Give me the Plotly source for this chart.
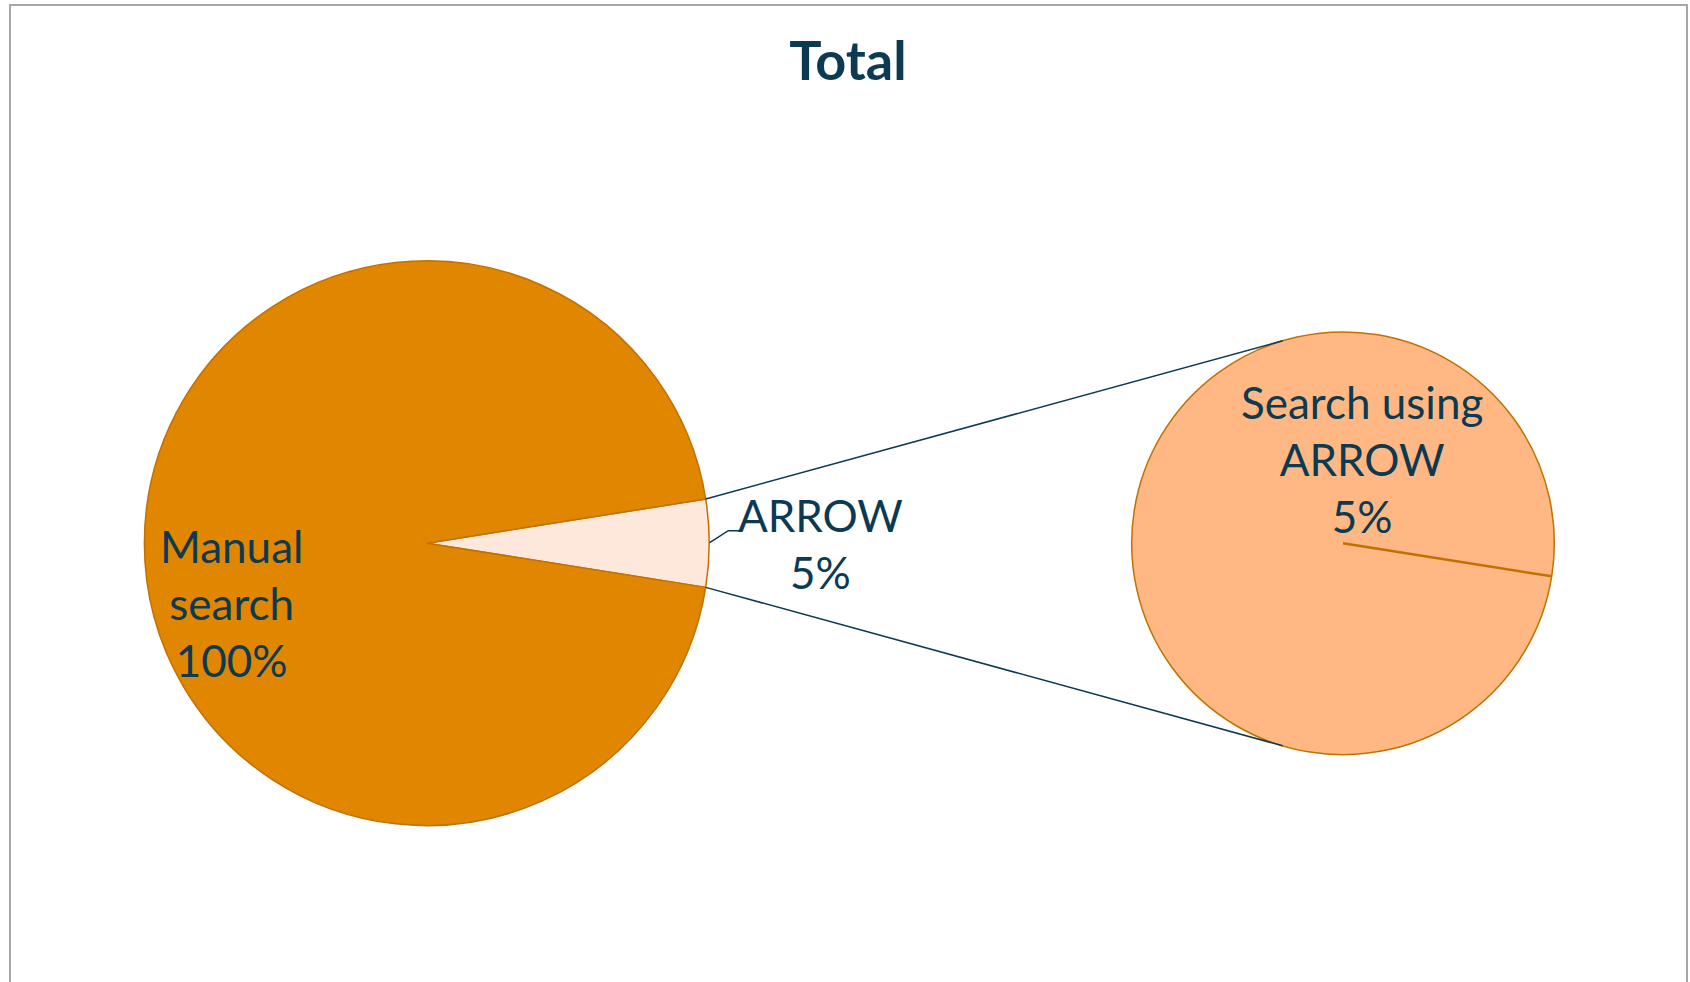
import math
import plotly.graph_objects as go

# ---- data ----
main_labels = ["ARROW", "Manual search"]
main_values = [5, 95]
main_text = ["ARROW<br>5%", "Manual<br>search<br>100%"]
sub_labels = ["Search using ARROW"]
sub_values = [5]
sub_text = ["Search using<br>ARROW<br>5%"]
title_text = "Total"

W, H = 1690, 982
NAVY = "#0C3A52"
ORANGE = "#E08600"
PEACH = "#FDE8DB"
LIGHT = "#FFB884"
EDGE = "#C27000"
FONT = "Lato"

# pie geometry (pixels)
c1x, c1y, r1 = 426.8, 543.2, 282.4
c2x, c2y, r2 = 1343.0, 543.3, 211.3


def px(x):
    return x / W


def py(y):
    return 1 - y / H


share = main_values[0] / sum(main_values)
half = share * 360 / 2  # ARROW slice is centred on 3 o'clock

fig = go.Figure()
fig.add_trace(go.Pie(
    labels=main_labels, values=main_values, sort=False, direction="clockwise",
    rotation=90 - half, textinfo="none", hoverinfo="label+percent",
    marker=dict(colors=[PEACH, ORANGE], line=dict(color=EDGE, width=1.5)),
    domain=dict(x=[px(c1x - r1), px(c1x + r1)], y=[py(c1y + r1), py(c1y - r1)]),
    showlegend=False,
))
fig.add_trace(go.Pie(
    labels=sub_labels, values=sub_values, sort=False, direction="clockwise",
    rotation=90 + half, textinfo="none", hoverinfo="label",
    marker=dict(colors=[LIGHT], line=dict(color=EDGE, width=1.5)),
    domain=dict(x=[px(c2x - r2), px(c2x + r2)], y=[py(c2y + r2), py(c2y - r2)]),
    showlegend=False,
))

shapes = []
# chart border
shapes.append(dict(type="rect", xref="paper", yref="paper",
                   x0=px(10), x1=px(1687), y0=py(1100), y1=py(5),
                   line=dict(color="#A3A8AE", width=2), fillcolor="rgba(0,0,0,0)"))
# slice boundary in second pie
a = math.radians(-half)
shapes.append(dict(type="line", xref="paper", yref="paper",
                   x0=px(c2x), y0=py(c2y),
                   x1=px(c2x + r2 * math.cos(a)), y1=py(c2y - r2 * math.sin(a)),
                   line=dict(color=EDGE, width=2.5)))
# connector lines
conn = math.radians(106.6)
for s in (1, -1):
    ax = c1x + r1 * math.cos(math.radians(half))
    ay = c1y - s * r1 * math.sin(math.radians(half))
    bx = c2x + r2 * math.cos(conn)
    by = c2y - s * r2 * math.sin(conn)
    shapes.append(dict(type="line", xref="paper", yref="paper",
                       x0=px(ax), y0=py(ay), x1=px(bx), y1=py(by),
                       line=dict(color=NAVY, width=1.5)))
# leader line for ARROW label
lx0 = c1x + r1 + 0.5
shapes.append(dict(type="path", xref="paper", yref="paper",
                   path=f"M {px(lx0)},{py(542.7)} L {px(728.3)},{py(530.7)} L {px(740)},{py(530.7)}",
                   line=dict(color=NAVY, width=1.5)))

tf = dict(family=FONT, size=44, color=NAVY)
annotations = [
    dict(text=main_text[1], x=px(231), y=py(603), xref="paper", yref="paper",
         showarrow=False, font=tf, xanchor="center", yanchor="middle", align="center"),
    dict(text=main_text[0], x=px(820.5), y=py(543), xref="paper", yref="paper",
         showarrow=False, font=tf, xanchor="center", yanchor="middle", align="center"),
    dict(text=sub_text[0], x=px(1362), y=py(459), xref="paper", yref="paper",
         showarrow=False, font=tf, xanchor="center", yanchor="middle", align="center"),
]

fig.update_layout(
    width=W, height=H, margin=dict(l=0, r=0, t=0, b=0),
    paper_bgcolor="white", plot_bgcolor="white",
    title=dict(text=f"<b>{title_text}</b>", x=px(848), xanchor="center",
               y=py(61), yanchor="middle",
               font=dict(family=FONT, size=54, color=NAVY)),
    shapes=shapes, annotations=annotations,
)

fig.write_html("out.html", config={"displayModeBar": False},
               post_script="document.body.style.margin='0px';document.body.style.overflow='hidden';")
